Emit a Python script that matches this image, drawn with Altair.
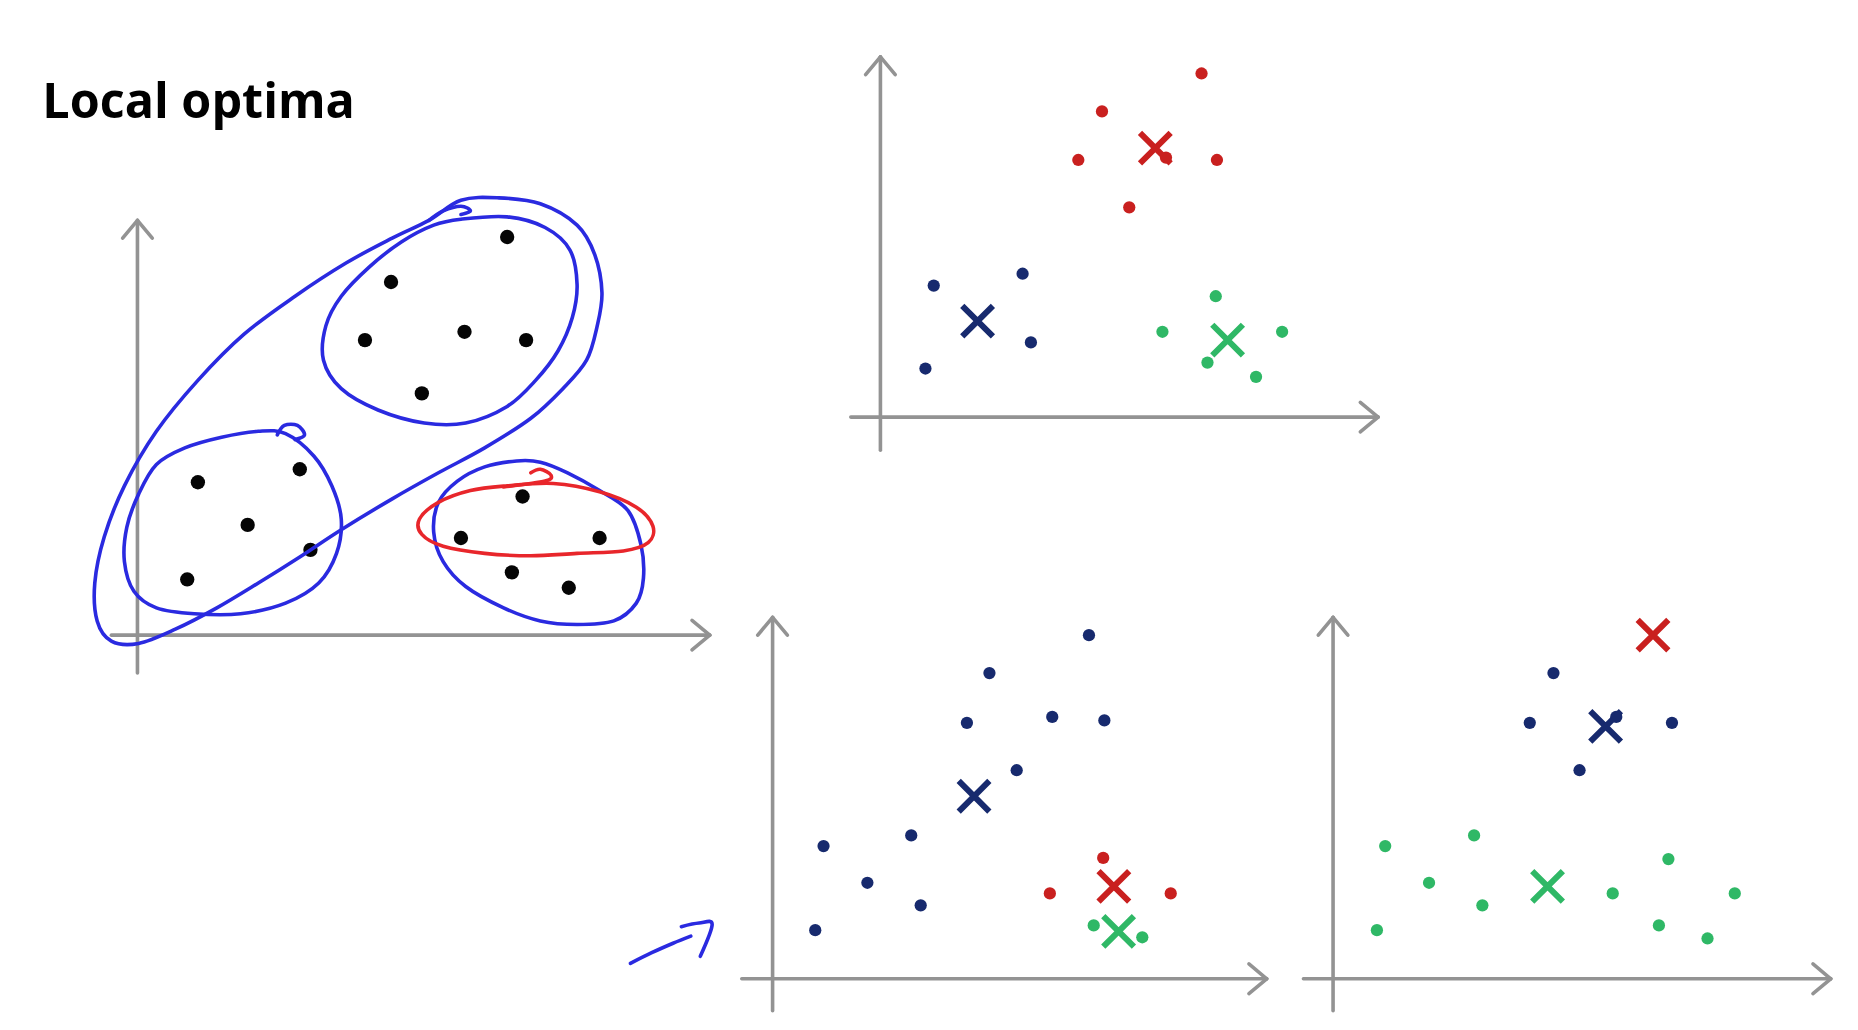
import altair as alt
import pandas as pd

# ---------------- data (reference coordinates, 1568x869 frame) ----------------
title_text = "Local optima"

# panel 1: unclustered points
p1_x = [428, 330, 308, 392, 444, 356, 167, 253, 209, 262, 158, 441, 389, 506, 432, 480]
p1_y = [200, 238, 287, 280, 287, 332, 407, 396, 443, 464, 489, 419, 454, 454, 483, 496]

# panel 2: good clustering
p2_red_x = [1014, 930, 910, 1027, 953, 984]
p2_red_y = [62, 94, 135, 135, 175, 133]
p2_navy_x = [788, 863, 870, 781]
p2_navy_y = [241, 231, 289, 311]
p2_green_x = [1026, 981, 1082, 1019, 1060]
p2_green_y = [250, 280, 280, 306, 318]
p2_cent_x = [975, 825, 1036]
p2_cent_y = [125, 271, 287]
p2_cent_c = ["red", "navy", "green"]

# panel 3: local optimum A
p3_navy_x = [919, 835, 816, 888, 932, 858, 695, 769, 732, 777, 688]
p3_navy_y = [536, 568, 610, 605, 608, 650, 714, 705, 745, 764, 785]
p3_red_x = [931, 886, 988]
p3_red_y = [724, 754, 754]
p3_green_x = [923, 964]
p3_green_y = [781, 791]
p3_cent_x = [822, 940, 944]
p3_cent_y = [672, 748, 786]
p3_cent_c = ["navy", "red", "green"]

# panel 4: local optimum B
p4_navy_x = [1311, 1291, 1364, 1411, 1333]
p4_navy_y = [568, 610, 605, 610, 650]
p4_green_x = [1169, 1244, 1206, 1251, 1162, 1361, 1408, 1400, 1441, 1464]
p4_green_y = [714, 705, 745, 764, 785, 754, 725, 781, 792, 754]
p4_cent_x = [1395, 1355, 1306]
p4_cent_y = [536, 613, 748]
p4_cent_c = ["red", "navy", "green"]

# axes of the four panels: origin-side ends and arrow tips
ax_vx = [116, 743, 652, 1125]        # x of vertical axis
ax_vtop = [186, 48, 521, 521]        # arrow tip
ax_vbot = [568, 380, 853, 853]
ax_hy = [536, 352, 826, 826]         # y of horizontal axis
ax_hleft = [94, 718, 626, 1100]
ax_hright = [599, 1163, 1069, 1545]  # arrow tip

# hand-drawn closed loops (traced)
loop_outer_x = [389, 421, 456, 487, 502, 508, 504, 495, 475, 448, 409, 370, 331, 288, 253, 218, 183, 148, 117, 94, 82, 80, 88, 105, 132, 167, 206, 249, 292, 331, 362]
loop_outer_y = [169, 167, 172, 190, 215, 247, 275, 304, 328, 353, 378, 399, 421, 447, 470, 492, 513, 531, 543, 541, 524, 492, 453, 410, 364, 321, 282, 250, 222, 201, 186]
loop_tr_x = [389, 428, 460, 481, 487, 483, 471, 452, 428, 393, 358, 319, 288, 273, 275, 288, 312, 339, 366]
loop_tr_y = [185, 183, 192, 211, 240, 268, 296, 321, 343, 357, 357, 346, 328, 304, 275, 250, 225, 204, 190]
loop_bl_x = [241, 265, 280, 288, 284, 269, 241, 203, 164, 132, 113, 105, 107, 117, 132, 156, 187, 218]
loop_bl_y = [366, 385, 410, 438, 467, 492, 509, 518, 518, 513, 499, 474, 445, 417, 392, 378, 369, 364]
loop_br_x = [436, 456, 479, 506, 530, 541, 543, 537, 518, 487, 456, 425, 393, 374, 366, 370, 386, 409]
loop_br_y = [389, 390, 399, 414, 431, 460, 488, 509, 524, 527, 524, 513, 495, 474, 449, 424, 406, 394]
loop_red_x = [428, 467, 506, 537, 551, 547, 526, 487, 448, 409, 374, 356, 354, 370, 397]
loop_red_y = [410, 408, 415, 428, 444, 458, 465, 467, 469, 467, 461, 451, 438, 424, 414]

# hand-drawn open strokes (curls and the small arrow)
curl_outer_x = [362, 374, 389, 397, 389]
curl_outer_y = [186, 178, 174, 178, 181]
curl_bl_x = [234, 240, 251, 257, 249]
curl_bl_y = [367, 359, 359, 367, 371]
curl_red_x = [425, 460, 465, 456, 448]
curl_red_y = [411, 406, 401, 396, 399]
arrow_body_x = [532, 550, 568, 583]
arrow_body_y = [813, 804, 796, 790]
arrow_head_x = [575, 590, 601, 591]
arrow_head_y = [782, 779, 780, 807]

# ---------------- styling ----------------
COL = {"black": "#050505", "navy": "#172a6e", "red": "#c9201f",
       "green": "#2fb866", "pen": "#2a2ae0", "penred": "#e8262b", "axis": "#939393"}

K = 1858 / 1568
W, H = 1830, 1006
X0 = Y0 = 8 / K
xs = alt.Scale(domain=[X0, X0 + W / K], nice=False, zero=False)
ys = alt.Scale(domain=[Y0, Y0 + H / K], nice=False, zero=False, reverse=True)
X = lambda f="x": alt.X(f"{f}:Q", scale=xs, axis=None)
Y = lambda f="y": alt.Y(f"{f}:Q", scale=ys, axis=None)

# ---------------- tables ----------------
def pts(xl, yl, c, kind):
    return [{"x": a, "y": b, "c": COL[c], "k": kind} for a, b in zip(xl, yl)]

rows = pts(p1_x, p1_y, "black", "big")
for xl, yl, c in [(p2_red_x, p2_red_y, "red"), (p2_navy_x, p2_navy_y, "navy"), (p2_green_x, p2_green_y, "green"),
                  (p3_navy_x, p3_navy_y, "navy"), (p3_red_x, p3_red_y, "red"), (p3_green_x, p3_green_y, "green"),
                  (p4_navy_x, p4_navy_y, "navy"), (p4_green_x, p4_green_y, "green")]:
    rows += pts(xl, yl, c, "small")
points = pd.DataFrame(rows)

cents = []
for xl, yl, cl in [(p2_cent_x, p2_cent_y, p2_cent_c), (p3_cent_x, p3_cent_y, p3_cent_c), (p4_cent_x, p4_cent_y, p4_cent_c)]:
    for a, b, c in zip(xl, yl, cl):
        cents.append({"x": a, "y": b, "c": COL[c]})
cents = pd.DataFrame(cents)

segs = []
HL, HW = 15, 12.5
for vx, vt, vb, hy, hl, hr in zip(ax_vx, ax_vtop, ax_vbot, ax_hy, ax_hleft, ax_hright):
    segs.append({"x": vx, "y": vb, "x2": vx, "y2": vt})
    segs.append({"x": vx, "y": vt, "x2": vx - HW, "y2": vt + HL})
    segs.append({"x": vx, "y": vt, "x2": vx + HW, "y2": vt + HL})
    segs.append({"x": hl, "y": hy, "x2": hr, "y2": hy})
    segs.append({"x": hr, "y": hy, "x2": hr - HL, "y2": hy - HW})
    segs.append({"x": hr, "y": hy, "x2": hr - HL, "y2": hy + HW})
segs = pd.DataFrame(segs)

def path(name, xl, yl, c):
    return [{"id": name, "s": i, "x": a, "y": b, "c": COL[c]} for i, (a, b) in enumerate(zip(xl, yl))]

closed = pd.DataFrame(path("outer", loop_outer_x, loop_outer_y, "pen") + path("tr", loop_tr_x, loop_tr_y, "pen")
                      + path("bl", loop_bl_x, loop_bl_y, "pen") + path("br", loop_br_x, loop_br_y, "pen")
                      + path("red", loop_red_x, loop_red_y, "penred"))
opened = pd.DataFrame(path("c1", curl_outer_x, curl_outer_y, "pen") + path("c2", curl_bl_x, curl_bl_y, "pen")
                      + path("c3", curl_red_x, curl_red_y, "penred") + path("a1", arrow_body_x, arrow_body_y, "pen")
                      + path("a2", arrow_head_x, arrow_head_y, "pen"))

# ---------------- layers ----------------
axes = alt.Chart(segs).mark_rule(strokeWidth=3.6, color=COL["axis"], strokeCap="round").encode(
    x=X(), y=Y(), x2="x2:Q", y2="y2:Q")

big = alt.Chart(points[points.k == "big"]).mark_circle(size=205, opacity=1).encode(
    x=X(), y=Y(), color=alt.Color("c:N", scale=None))
small = alt.Chart(points[points.k == "small"]).mark_circle(size=150, opacity=1).encode(
    x=X(), y=Y(), color=alt.Color("c:N", scale=None))

xshape = "M -1 -1 L 1 1 M -1 1 L 1 -1"
crosses = alt.Chart(cents).mark_point(shape=xshape, size=940, strokeWidth=6, filled=False, opacity=1).encode(
    x=X(), y=Y(), stroke=alt.Stroke("c:N", scale=None))

loops = alt.Chart(closed).mark_line(interpolate="cardinal-closed", strokeWidth=3.6).encode(
    x=X(), y=Y(), detail="id:N", order="s:Q", color=alt.Color("c:N", scale=None))
strokes = alt.Chart(opened).mark_line(interpolate="cardinal", strokeWidth=3.6, strokeCap="round").encode(
    x=X(), y=Y(), detail="id:N", order="s:Q", color=alt.Color("c:N", scale=None))

title = alt.Chart(pd.DataFrame({"x": [35.7], "y": [99.6], "t": [title_text]})).mark_text(
    font="Open Sans", fontWeight="bold", fontSize=48.5, align="left", baseline="alphabetic", color="#000000").encode(
    x=X(), y=Y(), text="t:N")

chart = alt.layer(axes, big, small, crosses, loops, strokes, title).properties(
    width=W, height=H, padding=0, background="white"
).configure_view(stroke=None)

chart.save("out.html", embed_options={"renderer": "svg", "actions": False})
